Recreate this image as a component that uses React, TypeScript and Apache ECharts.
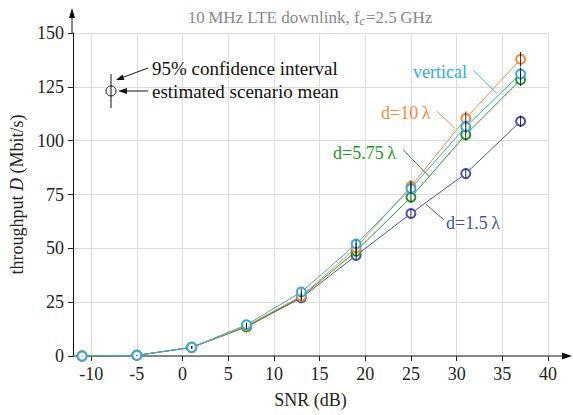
import React, { useEffect, useRef } from "react";
import * as echarts from "echarts";

const snr = [-11, -5, 1, 7, 13, 19, 25, 31, 37];
const vertical = [0, 0.3, 4, 14.5, 29.7, 52, 77.8, 106.5, 131];
const d10 = [0, 0.3, 4, 14, 27.8, 50.3, 78.8, 110.3, 137.8];
const d575 = [0, 0.3, 4, 13.6, 27.5, 48.7, 73.7, 102.8, 128.3];
const d15 = [0, 0.3, 4, 13.6, 27, 46.7, 66.2, 84.7, 109];

const ciVertical = [0.05, 0.1, 0.6, 1, 1.5, 2, 2.4, 2.8, 3];
const ci10 = [0.05, 0.1, 0.6, 1, 1.6, 2.2, 2.8, 3.2, 3.4];
const ci575 = [0.05, 0.1, 0.6, 1, 1.5, 2, 2.4, 2.8, 3];
const ci15 = [0.05, 0.1, 0.5, 0.9, 1.3, 1.7, 2, 2.3, 2.6];

const yTicks = [0, 25, 50, 75, 100, 125, 150];

const FONT = "Liberation Serif";
const C_VERT = "#33aadd";
const C_10 = "#f5883a";
const C_575 = "#229922";
const C_15 = "#4452a8";

export default function App() {
  const ref = useRef<HTMLDivElement>(null);
  useEffect(() => {
    if (!ref.current) return;
    const chart = echarts.init(ref.current, null, { renderer: "svg" });

    const richA = (color: string, size = 18) => ({
      a: { fontFamily: FONT, fontSize: size, color, fill: color },
    });

    const lineSeries = (name: string, data: number[], color: string) => ({
      name,
      type: "line",
      data: snr.map((x, i) => [x, data[i]]),
      symbol: "emptyCircle",
      symbolSize: 9,
      lineStyle: { color, width: 1 },
      itemStyle: { color, borderColor: color, borderWidth: 1.2 },
      z: 2,
    });

    const errSeries = (data: number[], ci: number[]) => ({
      type: "custom",
      data: snr.map((x, i) => [x, data[i] - ci[i], data[i] + ci[i]]),
      encode: { x: 0, y: [1, 2] },
      z: 4,
      renderItem: (params: any, api: any) => {
        const x = api.value(0);
        const p1 = api.coord([x, api.value(1)]);
        const p2 = api.coord([x, api.value(2)]);
        return {
          type: "line",
          shape: { x1: p1[0], y1: p1[1], x2: p2[0], y2: p2[1] },
          style: { stroke: "#111", lineWidth: 0.9 },
        };
      },
    });

    const txt = (x: number, y: number, text: string, fill: string, size = 18) => ({
      type: "text",
      x,
      y,
      style: {
        text: "{a|" + text + "}",
        rich: richA(fill, size),
        textAlign: "left",
        textVerticalAlign: "middle",
      },
      z: 10,
    });
    const seg = (x1: number, y1: number, x2: number, y2: number, stroke: string, lw = 1) => ({
      type: "line",
      shape: { x1, y1, x2, y2 },
      style: { stroke, lineWidth: lw },
      z: 10,
    });
    const tri = (points: number[][], fill: string) => ({
      type: "polygon",
      shape: { points },
      style: { fill },
      z: 10,
    });

    chart.setOption({
      animation: false,
      textStyle: { fontFamily: FONT },
      grid: { left: 72, right: 25, top: 33, bottom: 59 },
      xAxis: {
        type: "value",
        min: -12,
        max: 40,
        splitNumber: 10,
        name: "{a|SNR (dB)}",
        nameLocation: "middle",
        nameGap: 35,
        nameTextStyle: { rich: richA("#222") },
        axisLine: { show: true, onZero: false, lineStyle: { color: "#666", width: 1.5 } },
        axisTick: { show: true, length: 5, lineStyle: { color: "#222" } },
        axisLabel: {
          showMinLabel: false,
          margin: 9,
          rich: richA("#222"),
          formatter: (v: number) => (v % 5 === 0 ? "{a|" + v + "}" : ""),
        },
        splitLine: { show: true, lineStyle: { color: "#dcdcdc", width: 1 } },
      },
      yAxis: {
        type: "value",
        min: 0,
        max: 150,
        interval: 25,
        name: "{a|throughput }{i|D}{a| (Mbit/s)}",
        nameLocation: "middle",
        nameGap: 45,
        nameTextStyle: {
          rich: {
            a: { fontFamily: FONT, fontSize: 18, color: "#222" },
            i: { fontFamily: FONT, fontSize: 18, color: "#222", fontStyle: "italic" },
          },
        },
        axisLine: { show: true, onZero: false, lineStyle: { color: "#111", width: 1 } },
        axisTick: { show: true, length: 5, lineStyle: { color: "#222" } },
        axisLabel: {
          margin: 9,
          rich: richA("#222"),
          formatter: (v: number) => (yTicks.includes(v) ? "{a|" + v + "}" : ""),
        },
        splitLine: { show: true, lineStyle: { color: "#dcdcdc", width: 1 } },
      },
      series: [
        lineSeries("d=1.5λ", d15, C_15),
        lineSeries("d=5.75λ", d575, C_575),
        lineSeries("d=10λ", d10, C_10),
        lineSeries("vertical", vertical, C_VERT),
        errSeries(d15, ci15),
        errSeries(d575, ci575),
        errSeries(d10, ci10),
        errSeries(vertical, ciVertical),
      ],
      graphic: [
        {
          type: "text",
          x: 310,
          y: 17,
          style: {
            text: "{a|10\u2009MHz LTE downlink, f}{s|c}{a|=2.5\u2009GHz}",
            textAlign: "center",
            textVerticalAlign: "middle",
            rich: {
              a: { fontFamily: FONT, fontSize: 17, fill: "#888", color: "#888" },
              s: {
                fontFamily: FONT,
                fontSize: 12,
                fontStyle: "italic",
                fill: "#888",
                color: "#888",
                padding: [8, 1, 0, 0],
              },
            },
          },
          z: 10,
        },
        seg(72, 33, 72, 15, "#111", 1),
        tri([[72, 8], [69, 18], [75, 18]], "#111"),
        seg(548, 356, 564, 356, "#666", 1.5),
        tri([[572, 356], [562, 352.5], [562, 359.5]], "#111"),
        seg(111, 74, 111, 108, "#111", 1),
        {
          type: "circle",
          shape: { cx: 111, cy: 91, r: 5 },
          style: { fill: "#fff", stroke: "#111", lineWidth: 1 },
          z: 9,
        },
        seg(148, 68, 122, 77.7, "#111", 1),
        tri([[116, 80], [124.5, 80], [122.4, 74.4]], "#111"),
        seg(148, 91, 125, 91, "#111", 1),
        tri([[118, 91], [127, 88], [127, 94]], "#111"),
        txt(152, 68, "95% confidence interval", "#111", 19),
        txt(152, 91, "estimated scenario mean", "#111", 19),
        txt(413, 71.7, "vertical", C_VERT),
        seg(473.3, 70, 496.7, 93.3, C_VERT),
        txt(381, 112.7, "d=10\u2009λ", C_10),
        seg(436.7, 111, 455, 128.3, C_10),
        txt(333, 152.7, "d=5.75\u2009λ", C_575),
        seg(403.3, 150, 429.3, 176.7, C_575),
        txt(446, 223, "d=1.5\u2009λ", C_15),
        seg(426, 204.3, 444, 220, C_15),
      ],
    });
    return () => chart.dispose();
  }, []);
  return (
    <div
      ref={ref}
      style={{ position: "fixed", left: 0, top: 0, width: 573, height: 415, background: "#fff" }}
    />
  );
}
